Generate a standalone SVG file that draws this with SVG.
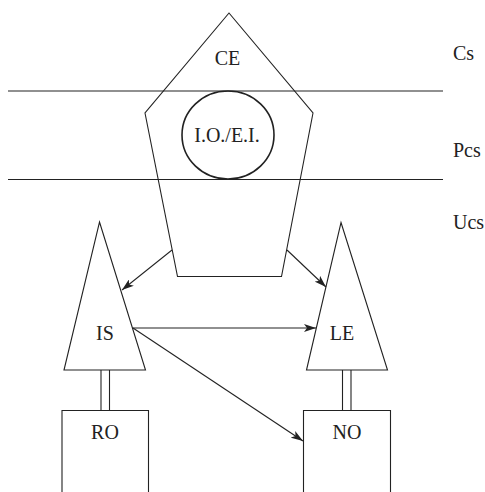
<svg xmlns="http://www.w3.org/2000/svg" width="485" height="492" viewBox="0 0 485 492">
<style>
.s{fill:none;stroke:#222;stroke-width:1.1}
text{font-family:"Liberation Serif","Times New Roman",serif;font-size:20px;fill:#222;text-anchor:middle}
.l{text-anchor:start}
.c{stroke:#222;stroke-width:1.1;fill:none;marker-end:url(#a)}
</style>
<defs>
<marker id="a" viewBox="0 0 12 8" refX="12" refY="4" markerWidth="12" markerHeight="8" markerUnits="userSpaceOnUse" orient="auto">
<path d="M0,0 L12,4 L0,8 L3,4 Z" fill="#222"/>
</marker>
</defs>
<g id="layers">
<line class="s" x1="8" y1="91" x2="443" y2="91"/>
<line class="s" x1="8" y1="179.5" x2="443" y2="179.5"/>
<text class="l" x="453" y="60">Cs</text>
<text class="l" x="453" y="157">Pcs</text>
<text class="l" x="453" y="229">Ucs</text>
</g>
<g id="CE">
<polygon class="s" points="229,13 313,113 281.5,276.5 177.5,276.5 145,113"/>
<text x="227.5" y="65">CE</text>
</g>
<g id="IOEI">
<ellipse cx="228" cy="135" rx="46" ry="44" fill="none" stroke="#222" stroke-width="1.6"/>
<text x="227" y="142">I.O./E.I.</text>
</g>
<g id="IS">
<polygon class="s" points="99.5,222 145.5,370 64,370"/>
<text x="105" y="340">IS</text>
</g>
<g id="LE">
<polygon class="s" points="341,222.5 387.5,370 306.5,370"/>
<text x="342" y="340">LE</text>
</g>
<g id="RO">
<polyline class="s" points="62,492 62,410.5 148.5,410.5 148.5,492"/>
<line class="s" x1="101" y1="370" x2="101" y2="410.5"/>
<line class="s" x1="109.5" y1="370" x2="109.5" y2="410.5"/>
<text x="105" y="439">RO</text>
</g>
<g id="NO">
<polyline class="s" points="303.5,492 303.5,410.5 390.5,410.5 390.5,492"/>
<line class="s" x1="342.5" y1="370" x2="342.5" y2="410.5"/>
<line class="s" x1="351" y1="370" x2="351" y2="410.5"/>
<text x="347" y="439">NO</text>
</g>
<g id="connectors">
<line class="c" x1="172" y1="250" x2="122" y2="290"/>
<line class="c" x1="287" y1="250" x2="326" y2="287"/>
<line class="c" x1="133" y1="328" x2="316" y2="328"/>
<line class="c" x1="133" y1="328" x2="303" y2="441"/>
</g>
</svg>
